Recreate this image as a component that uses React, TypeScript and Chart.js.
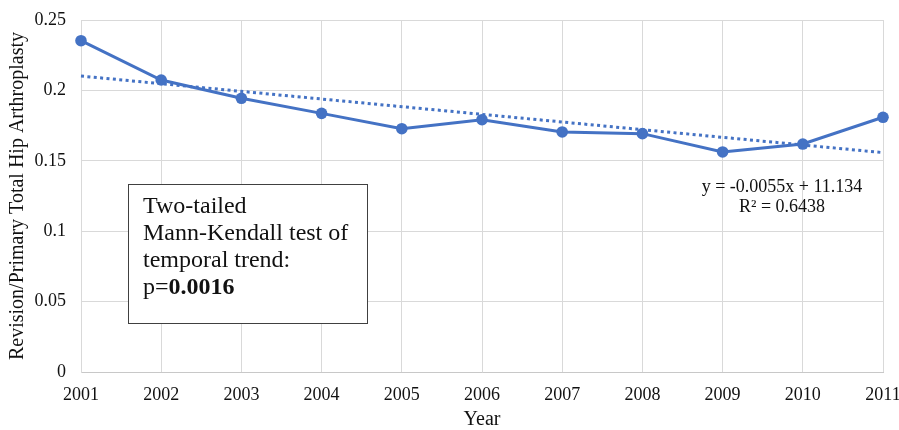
import React, { useEffect, useRef } from "react";
import { Chart, registerables } from "chart.js";

Chart.register(...registerables);

const years = [2001, 2002, 2003, 2004, 2005, 2006, 2007, 2008, 2009, 2010, 2011];
const ratio = [0.2353, 0.2074, 0.1944, 0.1837, 0.1728, 0.1792, 0.1705, 0.1693, 0.1563, 0.1619, 0.1809];
const trendYears = [2001, 2011];
const trendValues = [0.2102, 0.1558];
const yTicks = [0, 0.05, 0.1, 0.15, 0.2, 0.25];
const equationLines = ["y = -0.0055x + 11.134", "R\u00b2 = 0.6438"];
const boxLines = ["Two-tailed", "Mann-Kendall test of", "temporal trend:"];
const pLabel = "p=";
const pValue = "0.0016";

const BLUE = "#4472C4";
const SERIF = "'Liberation Serif', 'Times New Roman', serif";

const annotationPlugin = {
  id: "annot",
  afterDatasetsDraw(chart: any) {
    const ctx = chart.ctx as CanvasRenderingContext2D;
    const area = chart.chartArea;
    ctx.save();
    // text box
    const bx = area.left + 47;
    const by = area.top + 164;
    const bw = 239;
    const bh = 139;
    ctx.fillStyle = "#ffffff";
    ctx.fillRect(bx, by, bw, bh);
    ctx.strokeStyle = "#404040";
    ctx.lineWidth = 1;
    ctx.strokeRect(bx + 0.5, by + 0.5, bw, bh);
    ctx.fillStyle = "#111111";
    ctx.textBaseline = "middle";
    ctx.textAlign = "left";
    ctx.font = `24px ${SERIF}`;
    const tx = bx + 15;
    const lineY = [by + 23, by + 50, by + 76.5, by + 104];
    boxLines.forEach((t, i) => ctx.fillText(t, tx, lineY[i]));
    ctx.fillText(pLabel, tx, lineY[3]);
    const pw = ctx.measureText(pLabel).width;
    ctx.font = `bold 24px ${SERIF}`;
    ctx.fillText(pValue, tx + pw, lineY[3]);
    // equation
    ctx.font = `18px ${SERIF}`;
    ctx.textAlign = "center";
    const ex = area.left + 701;
    ctx.fillText(equationLines[0], ex, area.top + 167);
    ctx.fillText(equationLines[1], ex, area.top + 187);
    ctx.restore();
  },
};

export default function App() {
  const ref = useRef<HTMLCanvasElement | null>(null);
  useEffect(() => {
    if (!ref.current) return;
    const chart = new Chart(ref.current, {
      type: "line",
      data: {
        datasets: [
          {
            label: "Ratio",
            data: years.map((y, i) => ({ x: y, y: ratio[i] })),
            borderColor: BLUE,
            backgroundColor: BLUE,
            borderWidth: 3,
            pointRadius: 5.8,
            pointBackgroundColor: BLUE,
            pointBorderColor: BLUE,
            pointBorderWidth: 0,
            tension: 0,
            clip: false,
            order: 1,
          },
          {
            label: "Trend",
            data: trendYears.map((y, i) => ({ x: y, y: trendValues[i] })),
            borderColor: BLUE,
            borderWidth: 3,
            borderDash: [3, 3.4],
            pointRadius: 0,
            tension: 0,
            clip: false,
            order: 2,
          },
        ],
      },
      options: {
        responsive: false,
        animation: false,
        layout: { padding: { left: 0, right: 16, top: 20, bottom: 0 } },
        plugins: { legend: { display: false }, tooltip: { enabled: false } },
        scales: {
          x: {
            type: "linear",
            min: 2001,
            max: 2011,
            afterBuildTicks: (scale: any) => {
              scale.ticks = years.map((v) => ({ value: v }));
            },
            afterFit: (scale: any) => {
              scale.height = 58;
              scale.paddingLeft = 0;
              scale.paddingRight = 0;
            },
            grid: { color: "#d9d9d9", lineWidth: 1, drawTicks: false },
            border: { color: "#c8c8c8", width: 1 },
            ticks: {
              padding: 12,
              color: "#111111",
              font: { family: SERIF, size: 18 },
              callback: (v: any) => String(v),
              maxRotation: 0,
            },
            title: {
              display: true,
              text: "Year",
              color: "#111111",
              font: { family: SERIF, size: 20, lineHeight: 1 },
              padding: { top: 0, bottom: 0 },
            },
          },
          y: {
            min: 0,
            max: 0.25,
            afterBuildTicks: (scale: any) => {
              scale.ticks = yTicks.map((v) => ({ value: v }));
            },
            afterFit: (scale: any) => {
              scale.width = 81;
              scale.paddingTop = 0;
              scale.paddingBottom = 0;
            },
            grid: { color: "#d9d9d9", lineWidth: 1, drawTicks: false },
            border: { color: "#d9d9d9", width: 1 },
            ticks: {
              padding: 15,
              color: "#111111",
              font: { family: SERIF, size: 18 },
              callback: (v: any) => String(v),
            },
            title: {
              display: true,
              text: "Revision/Primary Total Hip Arthroplasty",
              color: "#111111",
              font: { family: SERIF, size: 20, lineHeight: 1.2 },
              padding: { top: 6, bottom: 0 },
            },
          },
        },
      },
      plugins: [annotationPlugin],
    });
    return () => chart.destroy();
  }, []);
  return (
    <div style={{ position: "fixed", left: 0, top: 0, width: 899, height: 430, background: "#fff" }}>
      <canvas ref={ref} width={899} height={430} style={{ display: "block" }} />
    </div>
  );
}
